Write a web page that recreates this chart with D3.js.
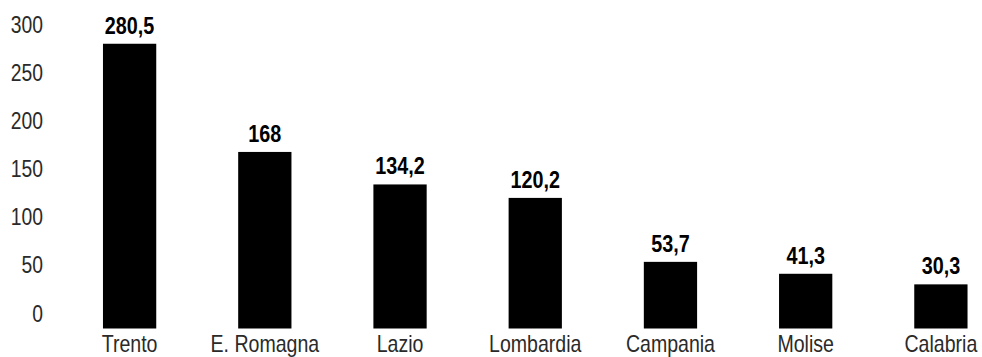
<!DOCTYPE html>
<html>
<head>
<meta charset="utf-8">
<script src="https://cdn.jsdelivr.net/npm/d3@7"></script>
<style>
  body { margin: 0; background: #fff; }
  svg { display: block; }
</style>
</head>
<body>
<div id="bar-chart"></div>
<script>
// Data
const regions = ["Trento", "E. Romagna", "Lazio", "Lombardia", "Campania", "Molise", "Calabria"];
const values = [280.5, 168, 134.2, 120.2, 53.7, 41.3, 30.3];
const valueLabels = ["280,5", "168", "134,2", "120,2", "53,7", "41,3", "30,3"];
const yTicks = [0, 50, 100, 150, 200, 250, 300];

const width = 982;
const height = 357;

const svg = d3.select("#bar-chart")
    .append("svg")
    .attr("width", width)
    .attr("height", height);

// Scales
const x = d3.scaleBand()
    .domain(regions)
    .range([62, 1008.5])
    .paddingInner(0.606)
    .paddingOuter(0.303);

const y = d3.scaleLinear()
    .domain([0, 300])
    .range([313.5, 25]);

const baseline = y(0) + 15; // bars run a bit below the zero tick

// Y axis labels (no line, no tick marks)
const yAxis = svg.append("g")
    .attr("transform", "translate(43,0)")
    .call(d3.axisLeft(y).tickValues(yTicks).tickSize(0).tickPadding(0));

yAxis.select(".domain").remove();
yAxis.selectAll("text")
    .attr("font-family", "'Liberation Sans', Arial, sans-serif")
    .attr("font-size", 21)
    .attr("fill", "#2a2a2a")
    .attr("transform", "scale(0.92,1.12)")
    .attr("dy", "0.32em");

// Bars
svg.selectAll("rect.bar")
    .data(values)
    .enter()
    .append("rect")
    .attr("class", "bar")
    .attr("x", (d, i) => x(regions[i]))
    .attr("y", d => y(d))
    .attr("width", x.bandwidth())
    .attr("height", d => baseline - y(d))
    .attr("fill", "#000");

// Value labels
svg.selectAll("g.value")
    .data(values)
    .enter()
    .append("g")
    .attr("class", "value")
    .attr("transform", (d, i) => `translate(${x(regions[i]) + x.bandwidth() / 2},${y(d) - 10}) scale(0.9,1.05)`)
    .append("text")
    .attr("text-anchor", "middle")
    .attr("font-family", "'Liberation Sans', Arial, sans-serif")
    .attr("font-weight", "bold")
    .attr("font-size", 22)
    .attr("fill", "#000")
    .text((d, i) => valueLabels[i]);

// Category labels, slightly condensed
svg.selectAll("g.cat")
    .data(regions)
    .enter()
    .append("g")
    .attr("class", "cat")
    .attr("transform", d => `translate(${x(d) + x.bandwidth() / 2},352) scale(0.85,1)`)
    .append("text")
    .attr("text-anchor", "middle")
    .attr("font-family", "'Liberation Sans', Arial, sans-serif")
    .attr("font-size", 23)
    .attr("fill", "#2a2a2a")
    .text(d => d);
</script>
</body>
</html>
